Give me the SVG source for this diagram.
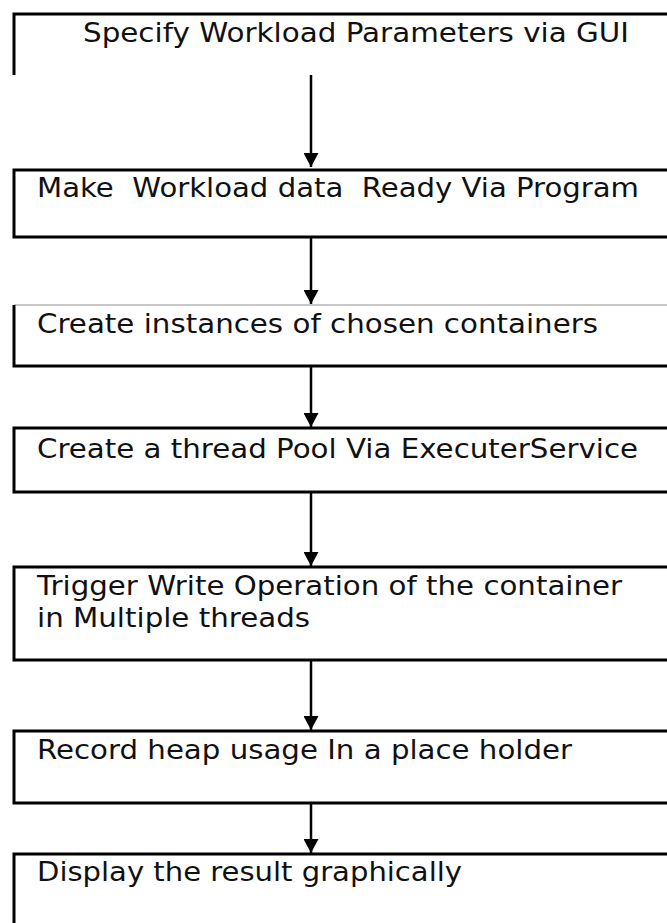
<svg xmlns="http://www.w3.org/2000/svg" width="667" height="923" viewBox="0 0 667 923">
  <defs>
    <style>
      .box { fill: none; stroke: #000; stroke-width: 3; }
      .faint { fill: none; stroke: #c8c8c8; stroke-width: 2; }
      .lbl { font-family: "DejaVu Sans", Verdana, sans-serif; font-size: 26px; fill: #111; white-space: pre; }
      .conn { stroke: #000; stroke-width: 2.5; fill: none; }
    </style>
    <marker id="arrow" viewBox="0 0 14 15" refX="14" refY="7.5" markerWidth="14" markerHeight="15" markerUnits="userSpaceOnUse" orient="auto">
      <path d="M0,0 L14,7.5 L0,15 Z" fill="#000"/>
    </marker>
  </defs>
  <rect width="667" height="923" fill="#fff"/>

  <g id="node-specify">
    <path class="box" d="M14,75 V14 H668"/>
    <text class="lbl" x="83" y="42" textLength="546" lengthAdjust="spacingAndGlyphs">Specify Workload Parameters via GUI</text>
  </g>

  <g id="node-make">
    <rect class="box" x="14" y="170" width="700" height="67"/>
    <text class="lbl" x="37" y="197" textLength="602" lengthAdjust="spacingAndGlyphs">Make  Workload data  Ready Via Program</text>
  </g>

  <g id="node-create-instances">
    <path class="faint" d="M14,305 H668"/>
    <path class="box" d="M14,305 V366 H668"/>
    <text class="lbl" x="37" y="333" textLength="561" lengthAdjust="spacingAndGlyphs">Create instances of chosen containers</text>
  </g>

  <g id="node-thread-pool">
    <rect class="box" x="14" y="428" width="700" height="64"/>
    <text class="lbl" x="37" y="458" textLength="601" lengthAdjust="spacingAndGlyphs">Create a thread Pool Via ExecuterService</text>
  </g>

  <g id="node-trigger">
    <rect class="box" x="14" y="567" width="700" height="93"/>
    <text class="lbl" x="37" y="595" textLength="585" lengthAdjust="spacingAndGlyphs">Trigger Write Operation of the container</text>
    <text class="lbl" x="37" y="627" textLength="273" lengthAdjust="spacingAndGlyphs">in Multiple threads</text>
  </g>

  <g id="node-record">
    <rect class="box" x="14" y="731" width="700" height="72"/>
    <text class="lbl" x="37" y="759" textLength="535" lengthAdjust="spacingAndGlyphs">Record heap usage In a place holder</text>
  </g>

  <g id="node-display">
    <path class="box" d="M14,930 V854 H668"/>
    <text class="lbl" x="37" y="881" textLength="425" lengthAdjust="spacingAndGlyphs">Display the result graphically</text>
  </g>

  <g id="connectors">
    <line class="conn" x1="311" y1="75" x2="311" y2="167" marker-end="url(#arrow)"/>
    <line class="conn" x1="311" y1="237" x2="311" y2="304" marker-end="url(#arrow)"/>
    <line class="conn" x1="311" y1="366" x2="311" y2="427" marker-end="url(#arrow)"/>
    <line class="conn" x1="311" y1="492" x2="311" y2="566" marker-end="url(#arrow)"/>
    <line class="conn" x1="311" y1="660" x2="311" y2="730" marker-end="url(#arrow)"/>
    <line class="conn" x1="311" y1="803" x2="311" y2="853" marker-end="url(#arrow)"/>
  </g>
</svg>
